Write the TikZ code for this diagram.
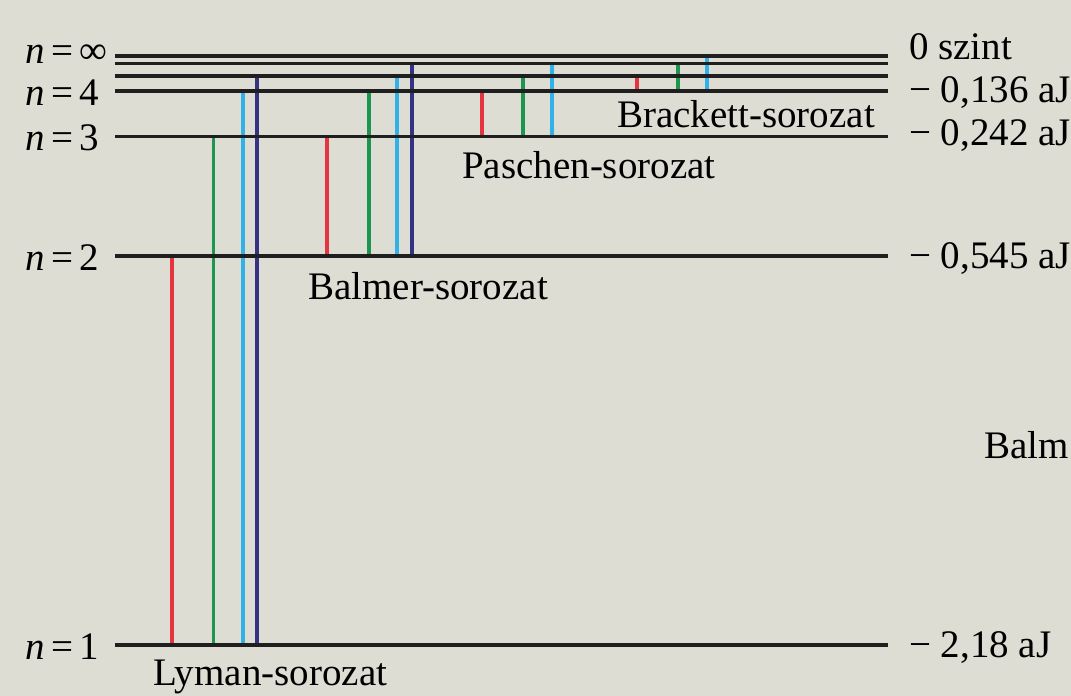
\documentclass[tikz,border=0pt]{standalone}
\usepackage{fontspec}
\setmainfont{Liberation Serif}
\definecolor{paper}{RGB}{221,221,211}
\definecolor{lred}{RGB}{228,52,64}
\definecolor{lgreen}{RGB}{28,150,78}
\definecolor{lcyan}{RGB}{48,178,232}
\definecolor{ldblue}{RGB}{52,50,132}
\begin{document}
\begin{tikzpicture}[x=1pt,y=-1pt,
  level/.style={line width=3.4pt,draw=black!88},
  trans/.style={line width=3.4pt},
  lab/.style={inner sep=0pt,font=\fontsize{39}{46}\selectfont},
  sertext/.style={lab,anchor=base west},
  nlab/.style={lab,anchor=base west},
  elab/.style={lab,anchor=base west}]
% page and background
\fill[paper] (0,0) rectangle (1071,696);
\useasboundingbox (0,0) rectangle (1071,696);

% left ends of the energy levels
\coordinate (ninf) at (115,56);
\coordinate (n6) at (115,63.5);
\coordinate (n5) at (115,76);
\coordinate (n4) at (115,91);
\coordinate (n3) at (115,136.5);
\coordinate (n2) at (115,256);
\coordinate (n1) at (115,645);

% transitions: x position / lower level / upper level / colour
\foreach \x/\lo/\hi/\c in {
    172/n1/n2/lred, 213.5/n1/n3/lgreen, 243/n1/n4/lcyan, 257/n1/n5/ldblue,
    327/n2/n3/lred, 369/n2/n4/lgreen, 397/n2/n5/lcyan, 412/n2/n6/ldblue,
    482/n3/n4/lred, 523/n3/n5/lgreen, 552/n3/n6/lcyan,
    637/n4/n5/lred, 678/n4/n6/lgreen, 707/n4/ninf/lcyan}
  \draw[trans,draw=\c] (\x,0 |- \lo) -- (\x,0 |- \hi);

% energy levels
\foreach \n in {ninf,n6,n5,n4,n3,n2,n1}
  \draw[level] (\n) -- ++(773,0);

% quantum numbers
\node[nlab] (qinf) at (25,63) {\textit{n}\,=\,∞};
\node[nlab] (q4) at (25,105) {\textit{n}\,=\,4};
\node[nlab] (q3) at (25,150) {\textit{n}\,=\,3};
\node[nlab] (q2) at (25,270) {\textit{n}\,=\,2};
\node[nlab] (q1) at (25,659) {\textit{n}\,=\,1};

% energies
\node[elab] (e0) at (909,59) {0 szint};
\node[elab] (e4) at (909,102) {− 0,136 aJ};
\node[elab] (e3) at (909,145) {− 0,242 aJ};
\node[elab] (e2) at (909,268) {− 0,545 aJ};
\node[elab] (e1) at (909,657) {− 2,18 aJ};

% series names
\node[sertext] (brackett) at (617,127) {Brackett-sorozat};
\node[sertext] (paschen) at (462,178) {Paschen-sorozat};
\node[sertext] (balmer) at (308,299) {Balmer-sorozat};
\node[sertext] (lyman) at (153,685) {Lyman-sorozat};
\node[sertext] (balmside) at (984,458) {Balm};
\end{tikzpicture}
\end{document}
